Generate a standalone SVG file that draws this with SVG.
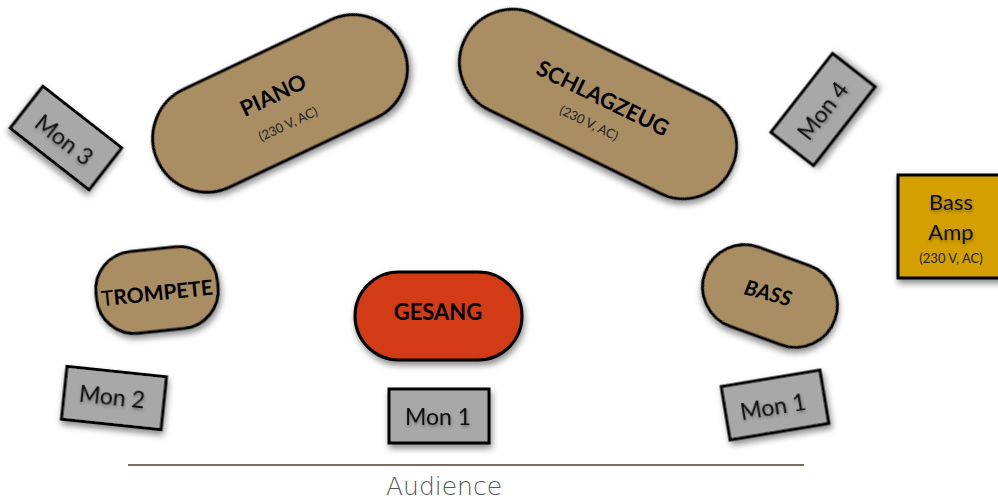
<svg xmlns="http://www.w3.org/2000/svg" width="998" height="502" viewBox="0 0 998 502">
<defs>
<filter id="sh" x="-20%" y="-20%" width="140%" height="150%">
<feDropShadow dx="1.5" dy="4" stdDeviation="3" flood-color="#000" flood-opacity="0.45"/>
</filter>
<filter id="tsh" x="-20%" y="-40%" width="140%" height="180%">
<feDropShadow dx="0.5" dy="2" stdDeviation="1.5" flood-color="#000" flood-opacity="0.35"/>
</filter>
</defs>
<style>
.tan{fill:#aa8e63;stroke:#000;stroke-width:3}
.mon{fill:#a8a8a8;stroke:#000;stroke-width:3}
.red{fill:#d33b16;stroke:#000;stroke-width:3}
.gold{fill:#d3a000;stroke:#000;stroke-width:3}
.b{font-family:Lato,"Open Sans",sans-serif;font-weight:700;fill:#000;text-anchor:middle}
.r{font-family:Lato,"Open Sans",sans-serif;font-weight:400;fill:#111;text-anchor:middle}
.m{font-family:Lato,"Open Sans",sans-serif;font-weight:400;fill:#111;text-anchor:middle;font-size:23px}
.s{font-family:Lato,"Open Sans",sans-serif;font-weight:400;fill:#222;text-anchor:middle;font-size:13px}
</style>
<rect width="998" height="502" fill="#fff"/>

<g id="piano">
<rect class="tan" filter="url(#sh)" x="-135" y="-54" width="270" height="108" rx="54" transform="translate(280,103.5) rotate(-25.3)"/>
<text class="b" font-size="22" transform="translate(273,95) rotate(-25.3)" y="8">PIANO</text>
<text class="s" transform="translate(288,124) rotate(-25.3)" y="4.5">(230 V, AC)</text>
</g>

<g id="schlagzeug">
<rect class="tan" filter="url(#sh)" x="-148" y="-53" width="296" height="106" rx="53" transform="translate(598,104) rotate(26)"/>
<text class="b" font-size="22" transform="translate(603,98) rotate(26)" y="8">SCHLAGZEUG</text>
<text class="s" transform="translate(589,123) rotate(26)" y="4.5">(230 V, AC)</text>
</g>

<g id="mon3">
<rect class="mon" filter="url(#sh)" x="-50" y="-26.5" width="100" height="53" transform="translate(66,138) rotate(38)"/>
<text class="m" filter="url(#tsh)" transform="translate(64,140) rotate(38)" y="8">Mon 3</text>
</g>

<g id="mon4">
<rect class="mon" filter="url(#sh)" x="-50" y="-27" width="100" height="54" transform="translate(823,109.5) rotate(-52)"/>
<text class="m" filter="url(#tsh)" transform="translate(823,111) rotate(-52)" y="8">Mon 4</text>
</g>

<g id="bassamp">
<rect class="gold" filter="url(#sh)" x="898" y="175" width="110" height="103"/>
<text class="r" font-size="22" x="951" y="210" filter="url(#tsh)">Bass</text>
<text class="r" font-size="22" x="951" y="240" filter="url(#tsh)">Amp</text>
<text class="s" x="951" y="263">(230 V, AC)</text>
</g>

<g id="trompete">
<rect class="tan" filter="url(#sh)" x="-61" y="-41" width="122" height="82" rx="38" transform="translate(157,290) rotate(-6)"/>
<text class="b" font-size="21" transform="translate(157,293) rotate(-6)" y="7.5"><tspan font-weight="400">T</tspan>ROMPETE</text>
</g>

<g id="gesang">
<rect class="red" filter="url(#sh)" x="355" y="272" width="167" height="88" rx="44"/>
<text class="b" font-size="22" x="438" y="320">GESANG</text>
</g>

<g id="bass">
<rect class="tan" filter="url(#sh)" x="-69" y="-42" width="138" height="84" rx="42" transform="translate(770,296) rotate(20)"/>
<text class="b" font-size="21" font-style="italic" transform="translate(768,293) rotate(15)" y="7.5">BASS</text>
</g>

<g id="mon2">
<rect class="mon" filter="url(#sh)" x="-50" y="-26.5" width="100" height="53" transform="translate(114,398) rotate(6)"/>
<text class="m" filter="url(#tsh)" transform="translate(112,397) rotate(6)" y="8">Mon 2</text>
</g>

<g id="mon1">
<rect class="mon" filter="url(#sh)" x="389" y="389" width="100" height="54"/>
<text class="m" filter="url(#tsh)" x="438" y="425">Mon 1</text>
</g>

<g id="mon1b">
<rect class="mon" filter="url(#sh)" x="-50" y="-27" width="100" height="54" transform="translate(775,405) rotate(-9.5)"/>
<text class="m" filter="url(#tsh)" transform="translate(773,407) rotate(-9.5)" y="8">Mon 1</text>
</g>

<g id="connectors">
<line x1="128" y1="465" x2="804" y2="465" stroke="#7a6f62" stroke-width="2"/>
</g>

<g id="audience">
<text x="444" y="495" font-family="'DejaVu Sans',sans-serif" font-weight="300" font-size="25" fill="#555" text-anchor="middle">Audience</text>
</g>
</svg>
